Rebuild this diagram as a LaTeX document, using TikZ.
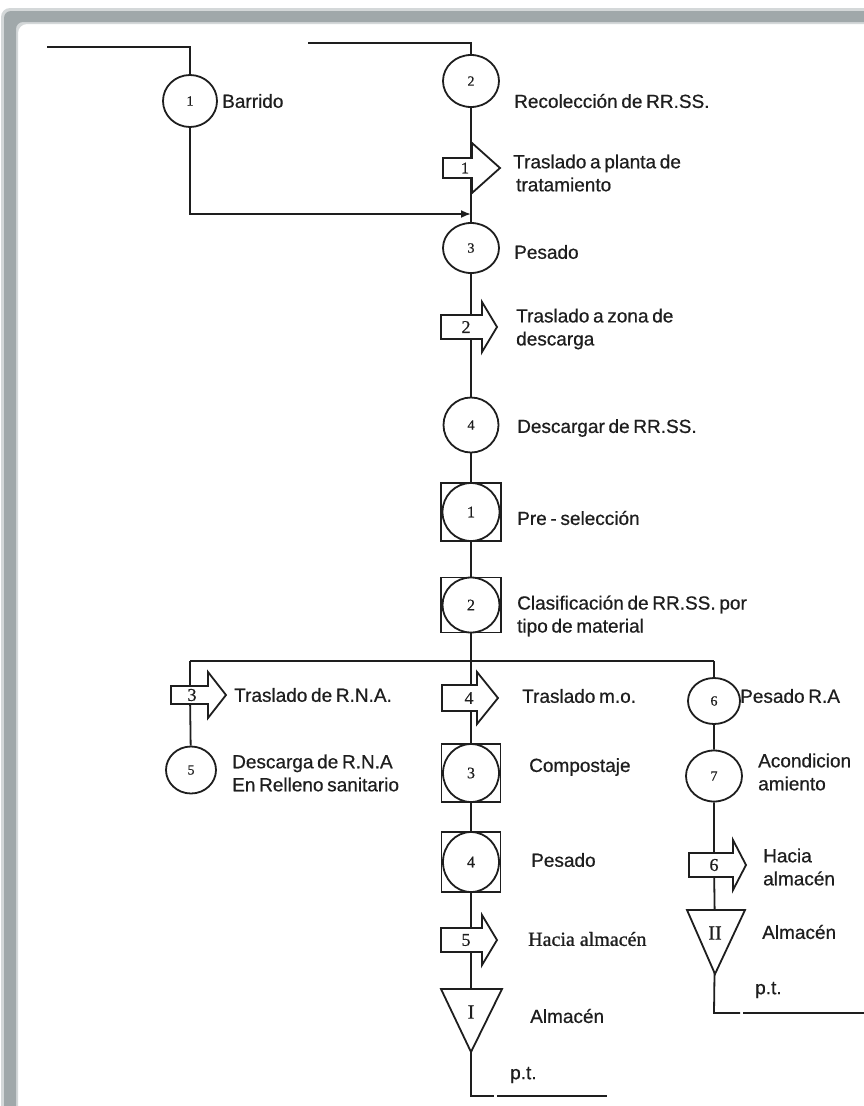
\documentclass[tikz,border=0pt]{standalone}
\usepackage{fontspec}
\setmainfont{Liberation Sans}[WordSpace=0.7, FakeBold=0.6]
\newfontfamily\numfont{Liberation Serif}[FakeBold=0.6]
\newfontfamily\serlbl{Liberation Serif}[FakeBold=1.0]
\usetikzlibrary{shapes.geometric,backgrounds,arrows.meta}
\definecolor{ink}{HTML}{1E1E1E}
\definecolor{framegray}{HTML}{A0A8AA}
\definecolor{framelight}{HTML}{D4D8D9}
\tikzset{
  ln/.style={draw=ink, line width=1.8pt, line join=miter},
  opc/.style={ellipse, draw=ink, line width=1.8pt, fill=white, inner sep=0,
    font=\numfont\fontsize{14}{14}\selectfont, text=ink},
  sqop/.style={rectangle, draw=ink, line width=1.8pt, fill=white, inner sep=0},
  shp/.style={draw=ink, line width=1.8pt, fill=white, line join=miter},
  anum/.style={inner sep=0, font=\numfont\fontsize{18}{18}\selectfont, text=ink},
  lbl/.style={anchor=west, inner sep=0, align=left,
    font=\fontsize{19}{23}\selectfont, text=ink},
  slbl/.style={anchor=west, inner sep=0, align=left,
    font=\serlbl\fontsize{20}{23}\selectfont, text=ink},
}
\begin{document}
\begin{tikzpicture}[x=1pt, y=-1pt]
\useasboundingbox (0,0) rectangle (864,1106);

% ---------- symbols ----------
\node[opc, minimum width=54, minimum height=52] (c1) at (190,101) {1};
\node[opc, minimum width=56, minimum height=52] (c2) at (471,81) {2};
% transport 1
\coordinate (a1) at (471,168);
\draw[shp, shift={(471,168)}] (-28,-10) -- (1,-10) -- (1,-25) -- (29,0) -- (1,25) -- (1,10) -- (-28,10) -- cycle;
\node[anum, font=\numfont\fontsize{16}{16}\selectfont] (a1n) at (465,168) {1};
\coordinate (j) at (471,214);
\node[opc, minimum width=56, minimum height=50] (c3) at (471,248) {3};
% transport 2
\coordinate (a2) at (471,327);
\draw[shp, shift={(471,327)}] (-30,-12) -- (11,-12) -- (11,-25) -- (26,0) -- (11,25) -- (11,12) -- (-30,12) -- cycle;
\node[anum] (a2n) at (466,327) {2};
\node[opc, minimum width=55, minimum height=55] (c4) at (471,425) {4};
% combined 1
\node[sqop, minimum width=60, minimum height=58] (s1) at (471,512) {};
\node[opc, minimum width=57, minimum height=58, font=\numfont\fontsize{16}{16}\selectfont] (s1c) at (s1) {1};
% combined 2
\node[sqop, minimum width=60, minimum height=55] (s2) at (471,605) {};
\node[opc, minimum width=57, minimum height=55, font=\numfont\fontsize{16}{16}\selectfont] (s2c) at (s2) {2};
\coordinate (br) at (471,661);
\coordinate (brL) at (190,661);
\coordinate (brR) at (714,661);
% left branch
\coordinate (a3) at (190,695);
\draw[shp, shift={(190,695)}] (-19,-9) -- (18,-9) -- (18,-23) -- (36,0) -- (18,23) -- (18,9) -- (-19,9) -- cycle;
\node[anum] (a3n) at (192,695) {3};
\node[opc, minimum width=50, minimum height=47] (c5) at (191,770) {5};
% middle branch
\coordinate (a4) at (471,698);
\draw[shp, shift={(471,698)}] (-29,-13) -- (6,-13) -- (6,-26) -- (27,0) -- (6,26) -- (6,13) -- (-29,13) -- cycle;
\node[anum] (a4n) at (469,698) {4};
\node[sqop, minimum width=59, minimum height=58] (s3) at (471,773) {};
\node[opc, minimum width=56, minimum height=58, font=\numfont\fontsize{16}{16}\selectfont] (s3c) at (s3) {3};
\node[sqop, minimum width=59, minimum height=60] (s4) at (471,862) {};
\node[opc, minimum width=56, minimum height=60, font=\numfont\fontsize{16}{16}\selectfont] (s4c) at (s4) {4};
\coordinate (a5) at (471,940);
\draw[shp, shift={(471,940)}] (-30,-12) -- (11,-12) -- (11,-25) -- (26,0) -- (11,25) -- (11,12) -- (-30,12) -- cycle;
\node[anum] (a5n) at (466,940) {5};
\coordinate (t1) at (471,1010);
\draw[shp] (441,989) -- (502,989) -- (471,1052) -- cycle;
\node[anum, font=\numfont\fontsize{20}{20}\selectfont] (t1n) at (471,1012) {I};
\coordinate (pt1) at (471,1096);
\coordinate (pt1a) at (494,1096);
\coordinate (pt1b) at (497,1096);
\coordinate (pt1c) at (607,1096);
% right branch
\node[opc, minimum width=52, minimum height=46] (c6) at (714,701) {6};
\node[opc, minimum width=56, minimum height=51] (c7) at (714,776) {7};
\coordinate (a6) at (714,865);
\draw[shp, shift={(714,865)}] (-25,-12) -- (19,-12) -- (19,-25) -- (32,0) -- (19,25) -- (19,12) -- (-25,12) -- cycle;
\node[anum] (a6n) at (714,865) {6};
\coordinate (t2) at (715,935);
\draw[shp] (687,910) -- (745,910) -- (715,974) -- cycle;
\node[anum, font=\numfont\fontsize{20}{20}\selectfont] (t2n) at (715,933) {II};
\coordinate (pt2) at (714,1013);
\coordinate (pt2a) at (740,1013);
\coordinate (pt2b) at (743,1013);
\coordinate (pt2c) at (870,1013);
\coordinate (in1) at (47,47);
\coordinate (in2) at (308,43);

% ---------- labels ----------
\node[lbl] (l1) at (222,101) {Barrido};
\node[lbl] (l2) at (514,101) {Recolección de RR.SS.};
\node[lbl] (l3) at (513,173) {Traslado a planta de\\\hspace{3pt}tratamiento};
\node[lbl] (l4) at (514,252) {Pesado};
\node[lbl] (l5) at (516,329) {Traslado a zona de\\descarga};
\node[lbl] (l6) at (517,428) {Descargar de RR.SS.};
\node[lbl] (l7) at (517,518) {Pre - selección};
\node[lbl] (l8) at (517,616) {Clasificación de RR.SS. por\\tipo de material};
\node[lbl] (l9) at (234,695) {Traslado de R.N.A.};
\node[lbl] (l10) at (522,696) {Traslado m.o.};
\node[lbl] (l11) at (740,696) {Pesado R.A};
\node[lbl] (l12) at (232,773) {Descarga de R.N.A\\En Relleno sanitario};
\node[lbl] (l13) at (529,767) {Compostaje};
\node[lbl] (l14) at (758,772) {Acondicion\\amiento};
\node[lbl] (l15) at (531,860) {Pesado};
\node[slbl] (l16) at (528,939) {Hacia almacén};
\node[lbl] (l17) at (763,867) {Hacia\\almacén};
\node[lbl] (l18) at (762,932) {Almacén};
\node[lbl] (l19) at (755,990) {p.t.};
\node[lbl] (l20) at (530,1016) {Almacén};
\node[lbl] (l21) at (510,1075) {p.t.};

% ---------- frame and connectors (behind the symbols) ----------
\begin{pgfonlayer}{background}
\fill[white] (0,0) rectangle (864,1106);
\fill[framelight, rounded corners=9] (1,1120) -- (1,8) -- (880,8) -- (880,24) -- (18,24) -- (18,1120) -- cycle;
\fill[framegray, rounded corners=7] (4,1120) -- (4,11) -- (880,11) -- (880,22) -- (16,22) -- (16,1120) -- cycle;
\draw[ln] (in1) -- (in1 -| c1) -- (c1);
\draw[ln] (in2) -- (in2 -| c2) -- (c2);
\draw[ln] (c2) -- (a1) -- (c3) -- (a2) -- (c4) -- (s1) -- (s2) -- (br);
\draw[ln, -{Latex[length=10pt,width=8pt]}] (c1.south) |- (j);
\draw[ln] (brL) -- (brR);
\draw[ln] (brL) -- (a3) -- (c5);
\draw[ln] (br) -- (a4) -- (s3) -- (s4) -- (a5) -- (t1) -- (pt1) -- (pt1a);
\draw[ln] (pt1b) -- (pt1c);
\draw[ln] (brR) -- (c6) -- (c7) -- (a6) -- (t2) -- (pt2) -- (pt2a);
\draw[ln] (pt2b) -- (pt2c);
\end{pgfonlayer}
\end{tikzpicture}
\end{document}
